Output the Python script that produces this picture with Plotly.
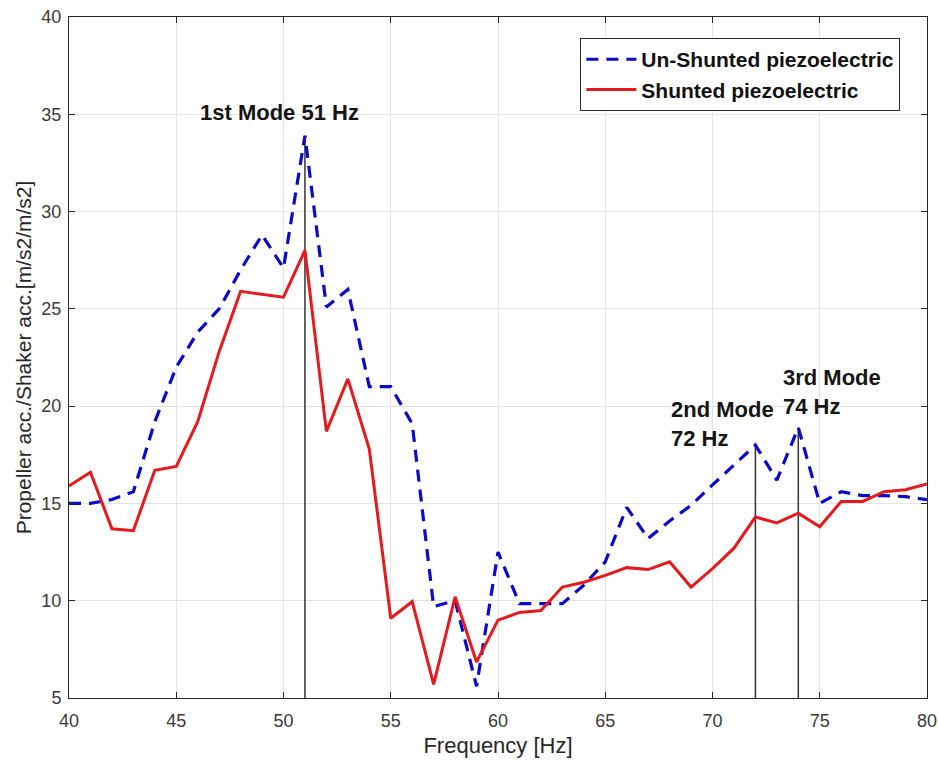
import plotly.graph_objects as go

freq = list(range(40, 81))

unshunted = [15.0, 15.0, 15.2, 15.6, 19.2, 22.0, 23.8, 25.0, 27.0, 28.8,
             27.1, 33.9, 25.1, 26.0, 21.0, 21.0, 19.1, 9.7, 10.0, 5.6,
             12.5, 9.85, 9.85, 9.85, 10.8, 12.0, 14.8, 13.2, 14.1, 14.9,
             15.95, 17.0, 18.0, 16.2, 18.9, 15.0, 15.6, 15.4, 15.4, 15.35, 15.2]

shunted = [15.9, 16.6, 13.7, 13.6, 16.7, 16.9, 19.2, 22.8, 25.9, 25.75,
           25.6, 28.0, 18.7, 21.4, 17.8, 9.1, 9.95, 5.7, 10.2, 6.85,
           9.0, 9.4, 9.5, 10.7, 10.95, 11.3, 11.7, 11.6, 12.0, 10.7,
           11.65, 12.7, 14.3, 14.0, 14.5, 13.8, 15.1, 15.1, 15.6, 15.7, 16.0]

mode_freq = [51, 72, 74]
mode_top = [33.9, 18.0, 18.9]
mode_labels = ["1st Mode 51 Hz", "2nd Mode<br>72 Hz", "3rd Mode<br>74 Hz"]
label_x = [49.79, 67.97, 73.2]
label_y = [35.07, 19.06, 20.73]
label_anchor = ["center", "left", "left"]

x_ticks = [40, 45, 50, 55, 60, 65, 70, 75, 80]
y_ticks = [5, 10, 15, 20, 25, 30, 35, 40]

FONT = "Liberation Sans, Arial, sans-serif"

fig = go.Figure()

for f, top in zip(mode_freq, mode_top):
    fig.add_trace(go.Scatter(x=[f, f], y=[5, top], mode="lines",
                             line=dict(color="#333333", width=1.5),
                             showlegend=False, hoverinfo="skip"))

fig.add_trace(go.Scatter(x=freq, y=unshunted, mode="lines",
                         name="Un-Shunted piezoelectric",
                         line=dict(color="#0a0ac8", width=3.2, dash="12px,8px")))
fig.add_trace(go.Scatter(x=freq, y=shunted, mode="lines",
                         name="Shunted piezoelectric",
                         line=dict(color="#e41a1c", width=3)))

for txt, lx, ly, anc in zip(mode_labels, label_x, label_y, label_anchor):
    fig.add_annotation(x=lx, y=ly, text=txt, showarrow=False, xanchor=anc,
                       yanchor="middle", align="left",
                       font=dict(family=FONT, size=22, color="#151515", weight="bold"))

axis_common = dict(showgrid=True, gridcolor="#e3e3e3", gridwidth=1,
                   showline=True, linecolor="#262626", linewidth=1, mirror="ticks",
                   ticks="inside", ticklen=6, tickcolor="#262626",
                   tickfont=dict(family=FONT, size=18, color="#3a3a3a"),
                   ticklabeloverflow="allow",
                   zeroline=False, automargin=False)

fig.update_xaxes(range=[40, 80], tickvals=x_ticks, ticklabelstandoff=6,
                 title=dict(text="Frequency [Hz]", standoff=8,
                            font=dict(family=FONT, size=22, color="#262626")),
                 **axis_common)
fig.update_yaxes(range=[5, 40], tickvals=y_ticks, ticklabelstandoff=3,
                 title=dict(text="Propeller acc./Shaker acc.[m/s2/m/s2]", standoff=4,
                            font=dict(family=FONT, size=21, color="#262626")),
                 **axis_common)

fig.update_layout(
    width=938, height=760,
    margin=dict(l=69, r=11, t=17, b=62),
    plot_bgcolor="white", paper_bgcolor="white",
    legend=dict(x=0.596, y=0.969, xanchor="left", yanchor="top",
                bgcolor="white", bordercolor="#262626", borderwidth=1,
                font=dict(family=FONT, size=21, color="#111111", weight="bold"),
                itemwidth=50, tracegroupgap=0),
)

# remove the default page margin so the 938x760 figure fills the window exactly
fig.write_html(
    "out.html",
    config={"displayModeBar": False},
    post_script="document.documentElement.style.overflow='hidden';"
                "document.body.style.margin='0';document.body.style.overflow='hidden';",
)
